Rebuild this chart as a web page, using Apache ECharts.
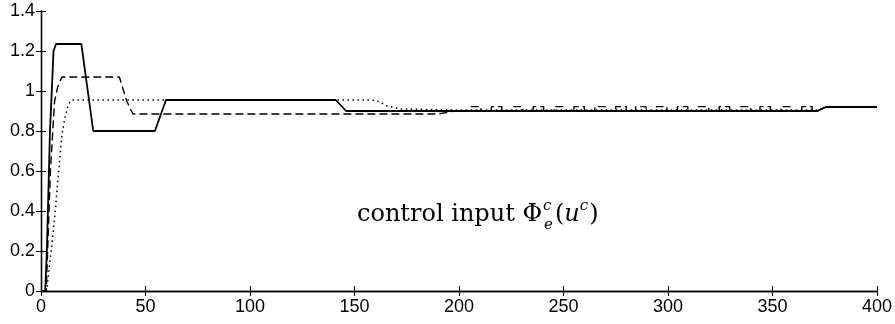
<!DOCTYPE html>
<html>
<head>
<meta charset="utf-8">
<script src="https://cdn.jsdelivr.net/npm/echarts@6/dist/echarts.min.js"></script>
<style>html,body{margin:0;padding:0;background:#fff}#c{width:895px;height:324px}</style>
</head>
<body>
<div id="c"></div>
<script>
// ---- data ----
var xTicks = [0, 50, 100, 150, 200, 250, 300, 350, 400];
var yTicks = [0, 0.2, 0.4, 0.6, 0.8, 1, 1.2, 1.4];

var solidData = [[0,0],[2,0],[2.8,0.2],[4.3,0.8],[6,1.2],[7.2,1.235],[19.3,1.235],[25,0.80],[54.5,0.80],[59.8,0.955],[141,0.955],[146,0.90],[371.5,0.90],[375.5,0.92],[400,0.92]];

var dashedHead = [[0,0],[2.5,0],[3.5,0.3],[4.5,0.6],[6.5,0.95],[8,1.02],[10,1.07],[37.5,1.07],[41,0.95],[44,0.885],[190,0.885],[198,0.90],[205.5,0.90]];
var dashedBoxStarts = [205.5,215.5,225.5,235.5,245.5,255,265,275,284.5,294.5,304.5,314.5,324.5,334.5,344,354,364];
var dashedBoxEnds   = [210.5,220.5,230.5,240.5,250.5,260,270,280,289.5,299.5,309.5,319.5,329.5,339.5,349,359,369];
var dashedLow = 0.90, dashedHigh = 0.922;
var dashedTail = [[371.5,0.90],[375.5,0.92],[400,0.92]];

var dottedData = [[0,0],[2.7,0],[4.3,0.15],[5.9,0.3],[7,0.42],[8,0.55],[9,0.66],[10,0.78],[11.5,0.87],[13,0.93],[14.6,0.955],[158,0.955],[162,0.947],[165,0.927],[172,0.91],[200,0.905],[371.5,0.905],[375.5,0.92],[400,0.92]];

// ---- build dashed series from read values ----
var dashedData = dashedHead.slice();
for (var i = 0; i < dashedBoxStarts.length; i++) {
  dashedData.push([dashedBoxStarts[i], dashedLow]);
  dashedData.push([dashedBoxStarts[i], dashedHigh]);
  dashedData.push([dashedBoxEnds[i], dashedHigh]);
  dashedData.push([dashedBoxEnds[i], dashedLow]);
}
dashedData = dashedData.concat(dashedTail);

var chart = echarts.init(document.getElementById('c'), null, {renderer: 'canvas'});
var labelFont = {fontFamily: 'Liberation Sans, Arial, sans-serif', fontSize: 18, color: '#000'};
var axisLine = {show: true, lineStyle: {color: '#000', width: 1.3}};
var tick = {show: true, inside: true, length: 5, lineStyle: {color: '#000', width: 1}};

chart.setOption({
  animation: false,
  backgroundColor: '#fff',
  grid: {left: 41, right: 14, top: 11, bottom: 33, containLabel: false},
  xAxis: [
    {type: 'value', min: 0, max: 400, interval: 50, position: 'bottom',
     axisLine: axisLine, axisTick: tick, splitLine: {show: false},
     axisLabel: Object.assign({margin: 7, formatter: function(v){return String(v);}}, labelFont)},
    {type: 'value', min: 0, max: 400, interval: 50, position: 'top',
     axisLine: axisLine, axisTick: tick, splitLine: {show: false}, axisLabel: {show: false}}
  ],
  yAxis: [
    {type: 'value', min: 0, max: 1.4, interval: 0.2, position: 'left',
     axisLine: axisLine, axisTick: tick, splitLine: {show: false},
     axisLabel: Object.assign({margin: 6, formatter: function(v){return String(Math.round(v*10)/10);}}, labelFont)},
    {type: 'value', min: 0, max: 1.4, interval: 0.2, position: 'right',
     axisLine: axisLine, axisTick: tick, splitLine: {show: false}, axisLabel: {show: false}}
  ],
  series: [
    {name: 'solid', type: 'line', data: solidData, showSymbol: false, symbol: 'none',
     lineStyle: {color: '#000', width: 1.8, type: 'solid'}, z: 3},
    {name: 'dashed', type: 'line', data: dashedData, showSymbol: false, symbol: 'none',
     lineStyle: {color: '#000', width: 1.4, type: [8, 4]}, z: 2},
    {name: 'dotted', type: 'line', data: dottedData, showSymbol: false, symbol: 'none',
     lineStyle: {color: '#000', width: 1.5, type: [1.5, 3.5]}, z: 2}
  ],
  graphic: [
    {type: 'text', left: 357, top: 197,
     style: {
       text: '{n|control input Φ}{c|c}{e|e}{n|(}{u|u}{s|c}{n|)}',
       rich: {
         n: {fontFamily: 'DejaVu Serif, serif', fontSize: 24, lineHeight: 36, verticalAlign: 'middle', fill: '#000'},
         u: {fontFamily: 'DejaVu Serif, serif', fontStyle: 'italic', fontSize: 24, lineHeight: 36, verticalAlign: 'middle', fill: '#000'},
         c: {fontFamily: 'DejaVu Serif, serif', fontStyle: 'italic', fontSize: 15, lineHeight: 36, verticalAlign: 'top', width: 0, fill: '#000', padding: [2,0,0,1]},
         e: {fontFamily: 'DejaVu Serif, serif', fontStyle: 'italic', fontSize: 15, lineHeight: 36, verticalAlign: 'bottom', fill: '#000', padding: [0,2,0,1]},
         s: {fontFamily: 'DejaVu Serif, serif', fontStyle: 'italic', fontSize: 15, lineHeight: 36, verticalAlign: 'top', fill: '#000', padding: [2,1,0,0]}
       }
     }}
  ]
});
</script>
</body>
</html>
